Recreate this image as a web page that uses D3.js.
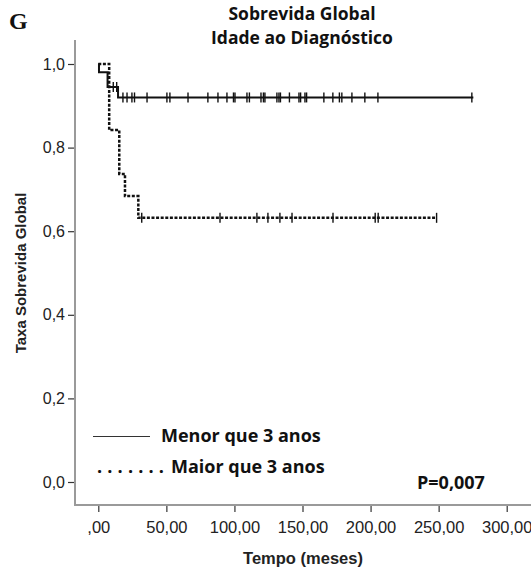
<!DOCTYPE html>
<html>
<head>
<meta charset="utf-8">
<script src="https://cdn.jsdelivr.net/npm/d3@7"></script>
<style>
  html, body { margin: 0; padding: 0; background: #fff; }
  svg { display: block; }
</style>
</head>
<body>
<svg id="chart" width="531" height="573"></svg>
<script>
// Kaplan-Meier step points: [time (months), survival]
const menorSteps = [[0, 1.0], [0.5, 0.98], [6.8, 0.945], [14.5, 0.92], [275.5, 0.92]];
const maiorSteps = [[0, 1.0], [8.0, 0.842], [15.4, 0.737], [19.6, 0.684], [29.4, 0.632], [248.5, 0.632]];

// Censored observations (time in months)
const menorCensored = [11.0, 13.5,
  18.1, 21.1, 24.7, 26.6, 35.8, 50.4, 52.6, 65.9, 80.5, 87.9, 94.5, 99.3, 100.4,
  109.2, 111.0, 119.5, 121.3, 122.4, 131.2, 132.7, 133.8, 140.4, 147.4, 148.6,
  151.8, 153.0, 165.7, 172.3, 177.1, 178.9, 186.3, 195.8, 205.4, 274.4];
const maiorCensored = [31.9, 89.4, 116.5, 124.6, 133.4, 142.3, 172.4, 203.4, 205.6, 248.5];

const xTicks = [0, 50, 100, 150, 200, 250, 300];
const yTicks = [0, 0.2, 0.4, 0.6, 0.8, 1.0];

const svg = d3.select("#chart");
const x = d3.scaleLinear().domain([0, 300]).range([98.3, 506.7]);
const y = d3.scaleLinear().domain([0, 1]).range([482, 64]);

const axisX = 75, axisY = 505;
const sans = "'Liberation Sans', Arial, sans-serif";
const titleFont = "'Open Sans', Lato, sans-serif";

// Survival value at time t for a step curve
function survivalAt(steps, t) {
  let s = steps[0][1];
  for (const [tt, v] of steps) { if (tt <= t) s = v; }
  return s;
}

// Step path built from the step points
function stepLine(steps) {
  return d3.line().x(d => x(d[0])).y(d => y(d[1])).curve(d3.curveStepAfter)(steps);
}

// Y axis
const gy = svg.append("g").attr("transform", `translate(${axisX},0)`)
  .call(d3.axisLeft(y).tickValues(yTicks).tickSize(7).tickPadding(3)
    .tickFormat(d => d3.format(".1f")(d).replace(".", ",")));
gy.select(".domain").remove();
gy.selectAll(".tick line").attr("stroke", "#333").attr("stroke-width", 1.2);
gy.selectAll(".tick text").attr("font-family", sans).attr("font-size", 16).attr("fill", "#222");

// X axis
const gx = svg.append("g").attr("transform", `translate(0,${axisY})`)
  .call(d3.axisBottom(x).tickValues(xTicks).tickSize(7).tickPadding(9)
    .tickFormat(d => d === 0 ? ",00" : d3.format(".2f")(d).replace(".", ",")));
gx.select(".domain").remove();
gx.selectAll(".tick line").attr("stroke", "#333").attr("stroke-width", 1.2);
gx.selectAll(".tick text").attr("font-family", sans).attr("font-size", 16.5).attr("fill", "#222");

// Axis frame lines (left and bottom)
svg.append("line").attr("x1", axisX).attr("x2", axisX).attr("y1", 40).attr("y2", axisY + 1)
  .attr("stroke", "#9a9a9a").attr("stroke-width", 2);
svg.append("line").attr("x1", axisX - 1).attr("x2", 545).attr("y1", axisY).attr("y2", axisY)
  .attr("stroke", "#9a9a9a").attr("stroke-width", 2);

// Survival curves
svg.append("path").attr("d", stepLine(menorSteps))
  .attr("fill", "none").attr("stroke", "#111").attr("stroke-width", 2);
svg.append("path").attr("d", stepLine(maiorSteps))
  .attr("fill", "none").attr("stroke", "#111").attr("stroke-width", 2.5)
  .attr("stroke-dasharray", "3,1.6");

// Censor marks
svg.append("g").selectAll("line").data(menorCensored).join("line")
  .attr("x1", d => x(d)).attr("x2", d => x(d))
  .attr("y1", d => y(survivalAt(menorSteps, d)) - 5)
  .attr("y2", d => y(survivalAt(menorSteps, d)) + 5)
  .attr("stroke", "#111").attr("stroke-width", 1.4);
svg.append("g").selectAll("line").data(maiorCensored).join("line")
  .attr("x1", d => x(d)).attr("x2", d => x(d))
  .attr("y1", d => y(survivalAt(maiorSteps, d)) - 5)
  .attr("y2", d => y(survivalAt(maiorSteps, d)) + 5)
  .attr("stroke", "#111").attr("stroke-width", 1.4);

// Panel letter
svg.append("text").attr("x", 9).attr("y", 29).text("G")
  .attr("font-family", "'Liberation Serif', 'Times New Roman', serif")
  .attr("font-weight", "bold").attr("font-size", 24).attr("fill", "#111");

// Title
svg.append("text").attr("x", 302).attr("y", 20).attr("text-anchor", "middle")
  .attr("font-family", titleFont).attr("font-weight", "bold").attr("font-size", 17.5)
  .attr("fill", "#111").text("Sobrevida Global");
svg.append("text").attr("x", 302).attr("y", 44).attr("text-anchor", "middle")
  .attr("font-family", titleFont).attr("font-weight", "bold").attr("font-size", 17.5)
  .attr("fill", "#111").text("Idade ao Diagnóstico");

// Axis titles
svg.append("text").attr("transform", "translate(26,273) rotate(-90)")
  .attr("text-anchor", "middle").attr("font-family", sans).attr("font-weight", "bold")
  .attr("font-size", 15).attr("fill", "#222").text("Taxa Sobrevida Global");
svg.append("text").attr("x", 303).attr("y", 564).attr("text-anchor", "middle")
  .attr("font-family", sans).attr("font-weight", "bold")
  .attr("font-size", 16.5).attr("fill", "#222").text("Tempo (meses)");

// Legend
svg.append("line").attr("x1", 93).attr("x2", 150).attr("y1", 436.5).attr("y2", 436.5)
  .attr("stroke", "#333").attr("stroke-width", 1);
svg.append("text").attr("x", 161).attr("y", 442)
  .attr("font-family", titleFont).attr("font-weight", "bold").attr("font-size", 18)
  .attr("fill", "#111").text("Menor que 3 anos");
svg.append("text").attr("x", 97).attr("y", 472.5)
  .attr("font-family", titleFont).attr("font-weight", "bold").attr("font-size", 18)
  .attr("letter-spacing", 0.25)
  .attr("fill", "#111").text(". . . . . . .");
svg.append("text").attr("x", 171).attr("y", 472.5)
  .attr("font-family", titleFont).attr("font-weight", "bold").attr("font-size", 18)
  .attr("fill", "#111").text("Maior que 3 anos");

// Log-rank p-value
svg.append("text").attr("x", 417).attr("y", 489)
  .attr("font-family", titleFont).attr("font-weight", "bold").attr("font-size", 18)
  .attr("fill", "#111").text("P=0,007");
</script>
</body>
</html>
